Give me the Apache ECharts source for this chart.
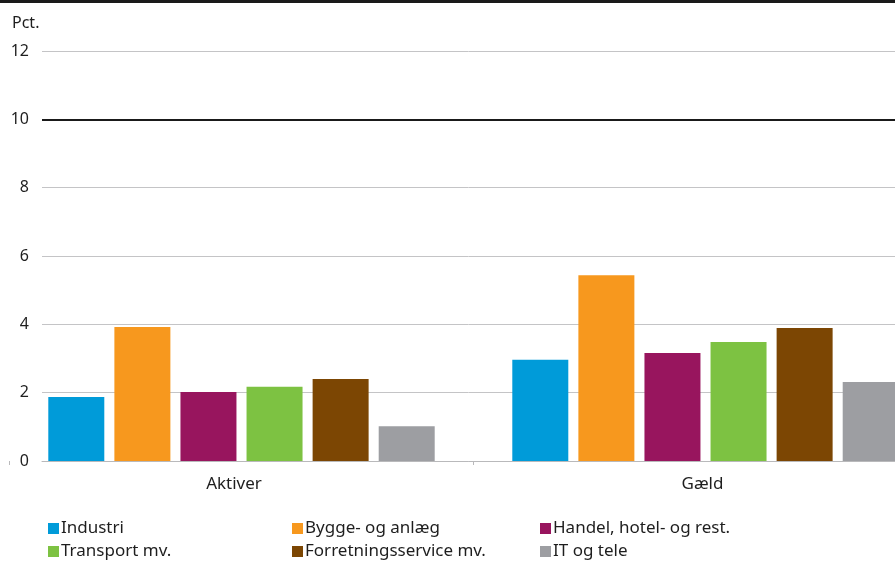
<!DOCTYPE html>
<html>
<head>
<meta charset="utf-8">
<script src="https://cdn.jsdelivr.net/npm/echarts@6/dist/echarts.min.js"></script>
<style>
  html, body { margin: 0; padding: 0; background: #fff; overflow: hidden; }
  #chart { width: 938px; height: 561px; }
</style>
</head>
<body>
<div id="chart"></div>
<script>
// Categories on the x axis
const categories = ['Aktiver', 'Gæld'];

// Sector names (legend) and their values in percent
const sectorNames = [
  'Industri',
  'Bygge- og anlæg',
  'Handel, hotel- og rest.',
  'Transport mv.',
  'Forretningsservice mv.',
  'IT og tele'
];
const industri = [1.87, 2.96];
const bygge = [3.92, 5.44];
const handel = [2.02, 3.16];
const transport = [2.17, 3.48];
const forretning = [2.40, 3.89];
const itTele = [1.02, 2.31];

// Y axis range and step
const yMin = 0;
const yMax = 12;
const yStep = 2;
const refLevel = 10;

const sectorValues = [industri, bygge, handel, transport, forretning, itTele];
const sectorColors = ['#009bd9', '#f7981e', '#98155e', '#7dc242', '#7c4603', '#9d9ea2'];

const FONT = '"Noto Sans", "Open Sans", sans-serif';
const TEXT = '#1e1e1e';

// The canvas is a little wider than the visible page: the bar area runs past the right edge.
const chart = echarts.init(document.getElementById('chart'), null, { renderer: 'canvas' });

// grid lines: gray everywhere except the reference level, which gets its own black line
const gridColors = [];
for (let v = yMin; v <= yMax; v += yStep) {
  gridColors.push(v === refLevel ? 'transparent' : '#c4c4c6');
}

const option = {
  animation: false,
  backgroundColor: '#ffffff',
  textStyle: { fontFamily: FONT, color: TEXT },
  title: {
    text: 'Pct.',
    left: 7,
    top: 10,
    textStyle: { fontFamily: FONT, fontSize: 16, fontWeight: 'normal', color: TEXT }
  },
  graphic: [
    { type: 'rect', shape: { x: 0, y: 0, width: 938, height: 3 }, style: { fill: '#1a1a1a' }, silent: true }
  ],
  grid: [
    { left: 42, right: 43, top: 51, bottom: 100 },
    { left: 9.5, right: 0.5, top: 51, bottom: 100 }
  ],
  xAxis: [
    {
      gridIndex: 0, type: 'value', min: 0, max: 1,
      axisLine: { show: true, lineStyle: { color: '#b9b9bb', width: 1 } },
      axisTick: { show: false }, axisLabel: { show: false }, splitLine: { show: false }
    },
    {
      gridIndex: 1, type: 'category', data: categories,
      axisLine: { show: false },
      axisTick: {
        show: true, length: 4,
        lineStyle: { color: '#b9b9bb' }
      },
      axisLabel: {
        fontFamily: FONT, fontSize: 17, color: TEXT, margin: 15,
        formatter: (value, index) => '{c' + index + '|' + value + '}',
        rich: {
          c0: { fontFamily: FONT, fontSize: 17, color: TEXT, padding: [0, 15, 0, 0] },
          c1: { fontFamily: FONT, fontSize: 17, color: TEXT, padding: [0, 6, 0, 0] }
        }
      }
    }
  ],
  yAxis: [
    {
      gridIndex: 0, type: 'value', min: yMin, max: yMax, interval: yStep,
      axisLine: { show: false }, axisTick: { show: false },
      axisLabel: { fontFamily: FONT, fontSize: 16, color: TEXT, margin: 13 },
      splitLine: { show: true, lineStyle: { color: gridColors, width: 1 } }
    },
    {
      gridIndex: 0, type: 'value', min: yMin, max: yMax, interval: refLevel,
      axisLine: { show: false }, axisTick: { show: false }, axisLabel: { show: false },
      splitLine: { show: true, lineStyle: { color: ['transparent', '#1a1a1a', 'transparent'], width: 2 } }
    },
    {
      gridIndex: 1, type: 'value', min: yMin, max: yMax, show: false
    }
  ],
  legend: [
    { names: [0, 3], left: 48 },
    { names: [1, 4], left: 292 },
    { names: [2, 5], left: 540 }
  ].map(col => ({
    orient: 'vertical',
    left: col.left,
    top: 520,
    itemWidth: 11,
    itemHeight: 11,
    itemGap: 6,
    icon: 'rect',
    padding: 0,
    data: col.names.map(i => sectorNames[i]),
    textStyle: { fontFamily: FONT, fontSize: 17, color: TEXT, padding: [0, 0, 0, -3] }
  })),
  series: sectorNames.map((name, i) => ({
    name: name,
    type: 'bar',
    xAxisIndex: 1,
    yAxisIndex: 2,
    data: sectorValues[i],
    barWidth: 56,
    barGap: '18%',
    itemStyle: { color: sectorColors[i] }
  }))
};

chart.setOption(option);
</script>
</body>
</html>
